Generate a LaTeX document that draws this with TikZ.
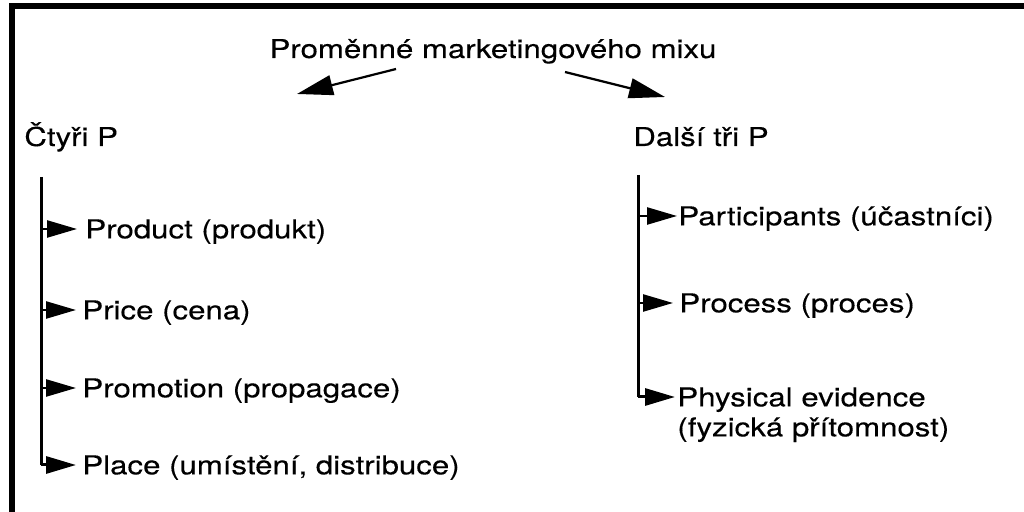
\documentclass[tikz,border=0pt]{standalone}
\usepackage{fontspec}
\setmainfont[FakeStretch=1.2, FakeBold=0.25]{TeX Gyre Heros}
\usetikzlibrary{positioning, arrows.meta}

\begin{document}
\begin{tikzpicture}[x=0.5pt, y=-0.5pt, font=\fontsize{13}{15}\selectfont,
            heading/.style={inner sep=0pt},
            item/.style={anchor=west, inner ysep=0pt, inner xsep=3pt, text height=9.3pt, text depth=0pt},
            spine/.style={line width=1.5pt},
            stub/.style={-{Triangle[length=15pt, width=8.5pt]}, line width=1.2pt},
            arrow/.style={-{Triangle[length=18pt, width=10pt]}, line width=1.1pt}]

        \useasboundingbox (0,0) rectangle (1024,512);
        \draw[line width=3pt] (1024,6) -- (12,6) -- (12,512);

        \node[heading, anchor=base] (title) at (493,58) {Proměnné marketingového mixu};
        \node[heading, anchor=base west] (four) at (24,146) {Čtyři P};
        \node[heading, anchor=base west] (three) at (633,146) {Další tři P};

        \coordinate (lstart) at (396,69);
        \coordinate (lend) at (297,94);
        \coordinate (rstart) at (565,72);
        \coordinate (rend) at (665,97);
        \draw[arrow] (lstart) -- (lend);
        \draw[arrow] (rstart) -- (rend);

        \coordinate (ltop) at (41,177);
        \coordinate (lbot) at (41,465);
        \node[item, inner xsep=4pt] (product) at (77,229) {Product (produkt)};
        \node[item] (price) at (76,310) {Price (cena)};
        \node[item] (promotion) at (76,388) {Promotion (propagace)};
        \node[item] (place) at (76,465) {Place (umístění, distribuce)};

        \draw[spine] (ltop) -- (lbot);
        \foreach \n in {product, price, promotion}
            \draw[stub] (ltop |- \n.west) -- (\n.west);
        \draw[stub, line width=1.5pt] (lbot) -- (place.west);

        \coordinate (rtop) at (638,175);
        \coordinate (rbot) at (638,397);
        \node[item, inner xsep=0.5pt] (participants) at (677,216) {Participants (účastníci)};
        \node[item] (process) at (673,303) {Process (proces)};
        \node[heading, anchor=north west, align=left, inner xsep=1pt] (physical) at (675,387) {Physical evidence\\(fyzická přítomnost)};

        \draw[spine] (rtop) -- (rbot);
        \foreach \n in {participants, process}
            \draw[stub] (rtop |- \n.west) -- (\n.west);
        \draw[stub, line width=1.5pt] (rbot) -- (rbot -| physical.west);
    \end{tikzpicture}
\end{document}
